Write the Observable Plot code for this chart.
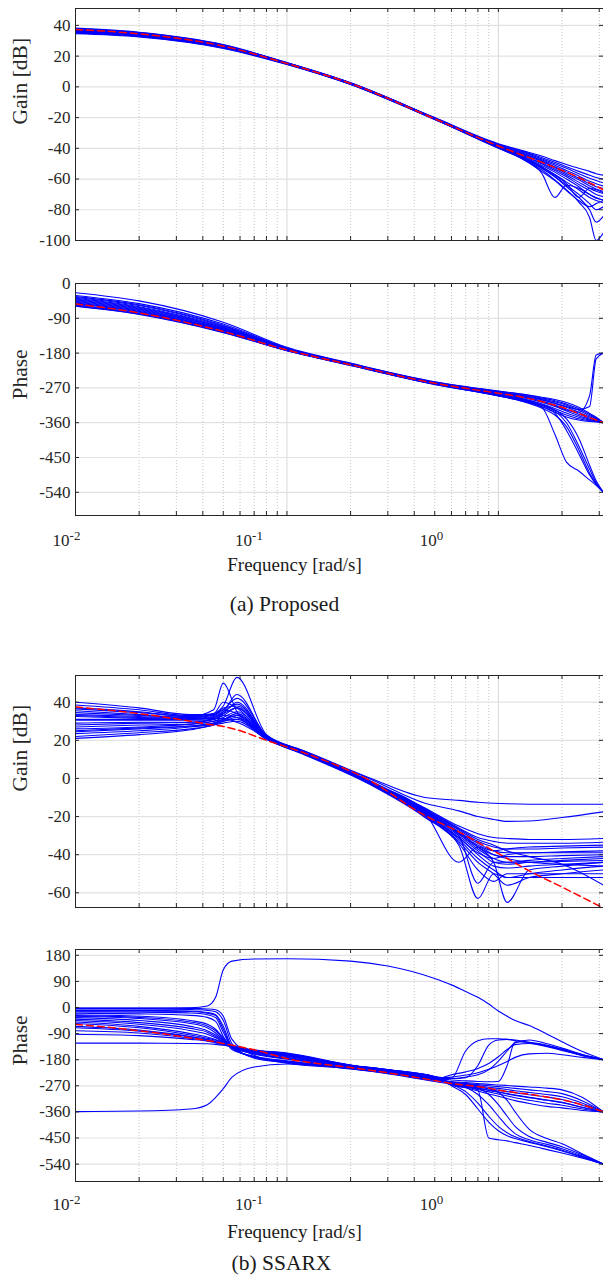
<!DOCTYPE html>
<html><head><meta charset="utf-8">
<script src="https://cdn.jsdelivr.net/npm/d3@7"></script>
<script src="https://cdn.jsdelivr.net/npm/@observablehq/plot@0.6"></script>
<style>
html,body{margin:0;padding:0;background:#fff;overflow:hidden;}
#root{position:relative;width:603px;height:1284px;overflow:hidden;font-family:"Liberation Serif","Times New Roman",Times,serif;}
.cap{position:absolute;white-space:nowrap;transform:translate(-50%,-50%);line-height:1;color:#1a1a1a;}
</style></head><body><div id="root"></div>
<script>
// ---------- axes / ticks ----------
const xDomain = [0.01, Math.PI];
const majorX = [0.01, 0.1, 1];
const minorX = [0.02,0.03,0.04,0.05,0.06,0.07,0.08,0.09,0.2,0.3,0.4,0.5,0.6,0.7,0.8,0.9,2,3];
const xTickLabels = ["10^-2", "10^-1", "10^0"];
const gainTicksA = [-100,-80,-60,-40,-20,0,20,40];
const phaseTicksA = [-540,-450,-360,-270,-180,-90,0];
const gainTicksB = [-60,-40,-20,0,20,40];
const phaseTicksB = [-540,-450,-360,-270,-180,-90,0,90,180];

// ---------- (a) Proposed : gain ----------
const freqA = [0.01,0.02,0.05,0.1,0.2,0.5,1,1.3,1.6,1.85,2.1,2.4,2.7,2.9,3.1416];
const propGainTrue = [37.3,34.5,26.5,15.2,2.2,-20.8,-38.5,-44.5,-49,-52.5,-55.5,-59,-62.5,-64.5,-67];
const propGainEst = [
  [38.2,35.5,27.5,15.8,2.7,-20.0,-37.0,-41.5,-45.0,-48.0,-50.5,-53.0,-55.0,-56.5,-57.5],
  [38.0,35.3,27.3,15.7,2.6,-20.1,-37.4,-42.0,-46.0,-49.0,-52.0,-55.0,-57.5,-59.0,-60.0],
  [37.7,35.0,27.1,15.6,2.5,-20.3,-37.8,-42.5,-46.8,-50.0,-53.0,-56.5,-59.5,-61.0,-62.5],
  [37.4,34.8,26.9,15.5,2.4,-20.4,-38.0,-43.0,-47.5,-51.0,-54.5,-58.0,-61.5,-63.0,-64.5],
  [37.1,34.5,26.7,15.4,2.3,-20.5,-38.3,-43.5,-48.0,-52.0,-55.5,-59.5,-63.0,-65.0,-66.0],
  [36.8,34.2,26.5,15.3,2.2,-20.6,-38.5,-44.0,-48.5,-52.5,-56.5,-60.5,-64.5,-66.5,-68.0],
  [36.5,34.0,26.3,15.2,2.1,-20.7,-38.8,-44.5,-49.5,-53.5,-57.5,-62.0,-66.0,-68.0,-69.5],
  [36.2,33.8,26.1,15.1,2.0,-20.8,-39.0,-45.0,-50.0,-54.5,-58.5,-63.5,-67.5,-70.0,-71.5],
  [35.9,33.5,25.9,15.0,1.9,-20.9,-39.3,-45.5,-51.0,-55.5,-60.0,-65.0,-70.0,-72.5,-73.5],
  [35.6,33.3,25.7,14.9,1.8,-21.0,-39.6,-46.0,-52.0,-57.0,-62.0,-67.0,-72.0,-74.0,-75.5],
  [35.3,33.0,25.5,14.8,1.7,-21.1,-40.0,-46.5,-53.0,-58.5,-64.0,-70.0,-76.0,-80.0,-78.0],
  [37.0,34.4,26.6,15.4,2.3,-20.5,-39.5,-47.0,-56.0,-72.0,-64.0,-66.0,-70.0,-72.0,-74.0],
  [36.0,33.6,26.0,15.0,1.9,-20.9,-39.2,-45.5,-52.0,-57.5,-63.0,-72.0,-66.0,-67.0,-69.0],
  [36.3,33.9,26.2,15.1,2.0,-20.8,-39.5,-46.5,-54.0,-60.5,-67.0,-75.0,-85.0,-100.0,-95.0],
  [34.9,32.8,25.3,14.7,1.6,-21.2,-38.6,-45.5,-52.5,-58.5,-65.0,-72.0,-80.0,-88.0,-84.0],
  [34.6,32.5,25.0,14.5,1.5,-21.3,-39.8,-47.0,-55.0,-61.0,-67.5,-74.0,-78.0,-76.0,-74.0]
];

// ---------- (a) Proposed : phase ----------
const propPhaseTrue = [-53,-76,-124,-172,-210,-258,-284,-294,-305,-315,-324,-336,-347,-353,-360];
const propPhaseEst = [
  [-24,-45,-100,-165,-206,-254,-278,-286,-294,-300,-308,-320,-336,-346,-360],
  [-31,-52,-105,-167,-207,-255,-279,-287,-296,-303,-312,-324,-339,-348,-360],
  [-36,-57,-110,-168,-208,-256,-280,-289,-298,-306,-315,-328,-342,-350,-360],
  [-40,-62,-114,-169,-208,-256,-281,-291,-301,-310,-320,-333,-345,-352,-360],
  [-44,-66,-117,-170,-209,-257,-282,-293,-304,-314,-325,-338,-348,-354,-360],
  [-48,-70,-120,-171,-209,-258,-284,-295,-307,-318,-330,-342,-351,-355,-360],
  [-52,-74,-122,-172,-210,-259,-286,-298,-311,-323,-335,-346,-353,-356,-360],
  [-56,-78,-125,-173,-211,-260,-288,-301,-315,-328,-340,-350,-355,-357,-360],
  [-59,-80,-127,-174,-212,-261,-290,-304,-319,-333,-345,-353,-357,-358,-360],
  [-38,-60,-112,-169,-208,-256,-281,-291,-300,-309,-318,-326,-318,-195,-180],
  [-46,-68,-118,-170,-209,-257,-283,-294,-305,-316,-327,-333,-290,-185,-180],
  [-50,-72,-121,-172,-210,-260,-290,-302,-319,-390,-462,-485,-508,-522,-540],
  [-55,-77,-124,-173,-211,-260,-290,-303,-318,-335,-380,-440,-495,-520,-540],
  [-42,-64,-115,-169,-208,-257,-287,-299,-315,-330,-360,-420,-480,-515,-540],
  [-58,-79,-126,-174,-212,-261,-291,-305,-322,-340,-370,-430,-490,-518,-540],
  [-34,-55,-108,-168,-208,-256,-286,-298,-313,-327,-350,-400,-470,-510,-540]
];

// ---------- (b) SSARX : gain ----------
const freqBg = [0.01,0.02,0.035,0.045,0.05,0.058,0.08,0.12,0.25,0.45,0.65,0.8,0.95,1.1,1.4,2.0,3.1416];
const ssarxGainTrue = [37.5,34,30,28,27.3,25.5,20,13.5,-1.5,-19.5,-28,-33.5,-38,-42,-48.5,-57,-68];
const ssarxGainEst = [
  [33.5,32.5,31.5,31.5,31.5,29.5,21.5,14.5,0,-10,-11.5,-12.5,-13,-13.3,-13.5,-13.5,-13.5],
  [30.5,30.5,30.5,31,33,32,21.5,14.2,-0.5,-13,-17,-20,-21.5,-22.5,-22.3,-20.5,-17.5],
  [40,37,33.5,33.5,36,34,22,14,-1.5,-15.5,-25,-29,-31,-31.5,-32,-32,-31.5],
  [38.5,36,33,34,40,37,22,14,-2,-16,-26,-31,-33,-34,-34,-34,-33.5],
  [36.5,34.5,32.5,36,50,35,22.5,14,-2,-16.5,-27,-33,-36,-37,-37,-36.5,-36],
  [34.5,33,32,34,38,53,23,14.5,-2,-17,-28,-34,-38,-39,-39,-38.5,-38],
  [32.5,31.5,31,32,35,44,22,13.5,-2.5,-17.5,-29,-36,-40,-41,-41,-40.5,-40],
  [29,29.5,29.5,31,33,37,21.5,13.5,-2.5,-18,-30,-38,-44,-45,-44,-43,-42],
  [27,28,28.5,30,32,35,21.5,13.5,-3,-18.5,-31,-40,-46,-47,-46,-45,-44],
  [25,26.5,27.5,29,31,33,21,13,-3,-19,-32,-42,-48,-52,-50,-48,-46],
  [23.5,25,27,28.5,30,32,21,13,-3,-19.5,-33,-44,-50,-56,-52,-50,-48],
  [22,24,26,28,30,31,20.5,13,-3,-20,-34,-48,-54,-50,-50,-50,-50],
  [21,23,25.5,28,29,30,20.5,12.5,-3.5,-20.5,-35,-63,-50,-52,-52,-52,-52],
  [28,29,29.5,31,34,40,22,13.5,-2.5,-18,-44,-36,-40,-42,-44,-45,-46],
  [35.5,33.5,32,33,36,42,22.5,14,-2,-17,-28,-36,-44,-65,-48,-46,-44],
  [26,27,28.5,30,31,34,21,13,-3,-19,-30,-55,-44,-44,-44,-43.5,-43],
  [31,31,31,32,34,37,21.5,13.5,-2.5,-18,-28.5,-35,-38,-37,-36,-35.5,-35],
  [37,35,32.5,33,37,38,22,14,-2,-16,-26.5,-32,-35,-38,-41,-45,-56],
  [24.5,26,27.5,29,30.5,33,21,13,-3,-19,-31,-39,-42,-40,-39,-39,-39],
  [33,32,31.5,32.5,35,39,22,13.8,-2.2,-17.5,-29,-37,-42,-44,-43,-42,-41]
];

// ---------- (b) SSARX : phase ----------
const freqBp = [0.01,0.02,0.035,0.042,0.046,0.05,0.055,0.07,0.1,0.2,0.3,0.5,0.6,0.7,0.8,0.9,1.0,1.1,1.2,1.4,1.7,2.0,2.5,3.1416];
const ssarxPhaseTrue = [-58,-80,-105,-114,-119,-124,-130,-146,-176,-207,-225,-252,-262,-268,-273,-278,-285,-289,-293,-299,-309,-318,-336,-360];
const ssarxPhaseEst = [
  [-3,-3,-1,5,35,130,160,167,168,160,143,100,78,55,35,12,-12,-30,-45,-62,-92,-118,-152,-180],
  [-359,-357,-350,-335,-310,-280,-240,-205,-195,-212,-228,-255,-265,-272,-279,-286,-292,-298,-303,-311,-320,-328,-345,-360],
  [-5,-5,-7,-10,-15,-45,-125,-175,-190,-210,-226,-250,-245,-150,-115,-108,-108,-110,-114,-122,-135,-148,-166,-180],
  [-25,-30,-45,-58,-75,-105,-135,-160,-178,-205,-221,-245,-245,-242,-200,-130,-112,-110,-112,-120,-133,-146,-165,-180],
  [-65,-78,-100,-110,-117,-125,-134,-149,-162,-200,-216,-240,-250,-253,-255,-256,-255,-200,-118,-120,-130,-143,-163,-180],
  [-15,-16,-19,-25,-35,-85,-140,-170,-186,-208,-224,-248,-232,-222,-210,-193,-170,-145,-128,-124,-132,-145,-164,-180],
  [-35,-45,-65,-80,-95,-115,-137,-155,-172,-203,-219,-243,-240,-233,-225,-213,-200,-186,-172,-160,-158,-163,-172,-180],
  [-92,-97,-110,-116,-122,-128,-135,-147,-157,-198,-214,-238,-245,-240,-232,-215,-185,-150,-122,-112,-125,-140,-162,-180],
  [-10,-10,-12,-17,-25,-65,-135,-172,-188,-209,-225,-249,-256,-259,-262,-265,-267,-269,-271,-274,-278,-284,-310,-360],
  [-30,-38,-55,-70,-88,-112,-138,-158,-175,-204,-220,-244,-258,-262,-266,-270,-273,-276,-279,-284,-290,-297,-322,-360],
  [-50,-65,-90,-102,-110,-120,-130,-150,-166,-201,-217,-241,-260,-265,-270,-275,-279,-283,-287,-293,-300,-308,-330,-360],
  [-20,-22,-27,-34,-48,-100,-145,-168,-184,-207,-223,-247,-262,-268,-274,-280,-285,-290,-294,-301,-309,-317,-337,-360],
  [-40,-52,-72,-85,-100,-118,-136,-153,-169,-202,-218,-242,-264,-271,-278,-285,-291,-297,-302,-310,-319,-327,-344,-360],
  [-80,-88,-106,-114,-120,-127,-135,-148,-159,-199,-215,-239,-266,-274,-283,-291,-298,-305,-311,-320,-330,-337,-350,-360],
  [-123,-123,-124,-125,-127,-130,-135,-147,-160,-199,-215,-239,-268,-277,-288,-298,-306,-314,-321,-331,-341,-346,-355,-360],
  [-2,-2,-3,-5,-8,-30,-110,-165,-192,-211,-227,-251,-262,-270,-285,-450,-456,-460,-466,-476,-490,-502,-520,-540],
  [-28,-34,-50,-64,-80,-108,-136,-159,-176,-205,-221,-245,-265,-290,-330,-375,-410,-432,-446,-462,-478,-492,-515,-540],
  [-55,-70,-95,-106,-113,-122,-132,-150,-164,-200,-216,-241,-262,-275,-300,-335,-375,-410,-435,-456,-472,-487,-512,-540],
  [-12,-12,-14,-20,-28,-75,-138,-171,-187,-208,-224,-248,-258,-265,-278,-300,-335,-375,-410,-445,-465,-480,-508,-540],
  [-45,-58,-80,-92,-104,-119,-136,-152,-167,-202,-218,-242,-256,-262,-270,-280,-292,-320,-360,-420,-452,-470,-505,-540],
  [-70,-82,-102,-112,-118,-126,-134,-148,-160,-199,-215,-239,-270,-300,-350,-395,-425,-442,-452,-465,-480,-495,-517,-540]
];

// ---------- drawing ----------
const root = document.getElementById("root");
const FONT = '"Liberation Serif", "Times New Roman", Times, serif';
const W = 603, ML = 75, FH = 232, MT = 10, MB = 10;
const INK = "#262626";

function drawPanel(o) {
  const blueRows = [];
  o.blues.forEach((s, k) => s.forEach((v, i) => blueRows.push({f: o.freq[i], v, k})));
  const redRows = o.red.map((v, i) => ({f: o.freq[i], v}));
  const allX = majorX.concat(minorX);
  const svg = Plot.plot({
    width: W, height: FH + MT + MB,
    marginLeft: ML, marginRight: 0, marginTop: MT, marginBottom: MB,
    style: {fontFamily: FONT, fontSize: "17px", color: INK, background: "transparent", overflow: "visible"},
    x: {type: "log", domain: xDomain, axis: null},
    y: {domain: o.yDomain, label: null},
    marks: [
      Plot.ruleX(minorX, {stroke: "#b8b8b8", strokeWidth: 0.8, strokeDasharray: "1,2"}),
      Plot.ruleX(majorX, {stroke: "#d8d8d8", strokeWidth: 1}),
      Plot.ruleY(o.yTicks, {stroke: "#e2e2e2", strokeWidth: 1.2}),
      Plot.line(blueRows, {x: "f", y: "v", z: "k", stroke: "#0000ff", strokeWidth: 1.1, curve: "monotone-x", clip: true}),
      Plot.line(redRows, {x: "f", y: "v", stroke: "#ff0000", strokeWidth: 1.5, strokeDasharray: "7,4", curve: "monotone-x", clip: true}),
      Plot.tickX(allX, {insetTop: FH - 4, stroke: INK}),
      Plot.tickX(allX, {insetBottom: FH - 4, stroke: INK}),
      Plot.tickY(o.yTicks, {insetRight: W - ML - 4, stroke: INK}),
      Plot.tickY(o.yTicks, {insetLeft: W - ML - 4, stroke: INK}),
      Plot.axisY(o.yTicks, {anchor: "left", tickSize: 0, tickPadding: 5, fontSize: 17, label: null, tickFormat: d => String(d)}),
      Plot.text([o.label], {frameAnchor: "left", rotate: -90, dx: -55, fontSize: 21.5, fill: INK}),
      Plot.frame({stroke: INK, strokeWidth: 1})
    ]
  });
  svg.style.position = "absolute";
  svg.style.left = "0px";
  svg.style.top = (o.frameTop - MT) + "px";
  root.appendChild(svg);
}

function drawXLabels(frameBottom, pad) {
  const H = 40;
  const svg = Plot.plot({
    width: W, height: H,
    marginLeft: 66, marginRight: W - 521.7, marginTop: 0, marginBottom: H - 1,
    style: {fontFamily: FONT, fontSize: "17px", color: INK, background: "transparent", overflow: "visible"},
    x: {type: "log", domain: xDomain},
    marks: [
      Plot.axisX(majorX, {anchor: "bottom", tickSize: 0, tickPadding: pad, fontSize: 17, label: null,
        tickFormat: d => xTickLabels[majorX.indexOf(d)]})
    ]
  });
  svg.querySelectorAll("text").forEach(t => {
    const s = t.textContent, j = s.indexOf("^");
    if (j >= 0) {
      t.textContent = s.slice(0, j);
      const ts = document.createElementNS("http://www.w3.org/2000/svg", "tspan");
      ts.setAttribute("dy", "-6");
      ts.setAttribute("font-size", "13");
      ts.textContent = s.slice(j + 1);
      t.appendChild(ts);
    }
  });
  svg.style.position = "absolute";
  svg.style.left = "0px";
  svg.style.top = (frameBottom - 1) + "px";
  root.appendChild(svg);
}

function addText(str, cx, cy, size) {
  const d = document.createElement("div");
  d.className = "cap";
  d.style.left = cx + "px";
  d.style.top = cy + "px";
  d.style.fontSize = size + "px";
  d.textContent = str;
  root.appendChild(d);
}

drawPanel({freq: freqA, blues: propGainEst, red: propGainTrue, yDomain: [-100, 51], yTicks: gainTicksA, label: "Gain [dB]", frameTop: 8});
drawPanel({freq: freqA, blues: propPhaseEst, red: propPhaseTrue, yDomain: [-600, 0], yTicks: phaseTicksA, label: "Phase", frameTop: 283});
drawXLabels(515, 18);
addText("Frequency [rad/s]", 294.5, 563.5, 19);
addText("(a) Proposed", 284.5, 605, 21.5);

drawPanel({freq: freqBg, blues: ssarxGainEst, red: ssarxGainTrue, yDomain: [-67.7, 54], yTicks: gainTicksB, label: "Gain [dB]", frameTop: 674.5});
drawPanel({freq: freqBp, blues: ssarxPhaseEst, red: ssarxPhaseTrue, yDomain: [-600, 200], yTicks: phaseTicksB, label: "Phase", frameTop: 948.5});
drawXLabels(1180.5, 16.5);
addText("Frequency [rad/s]", 294.5, 1231, 19);
addText("(b) SSARX", 281.5, 1263.5, 21.5);
</script></body></html>
